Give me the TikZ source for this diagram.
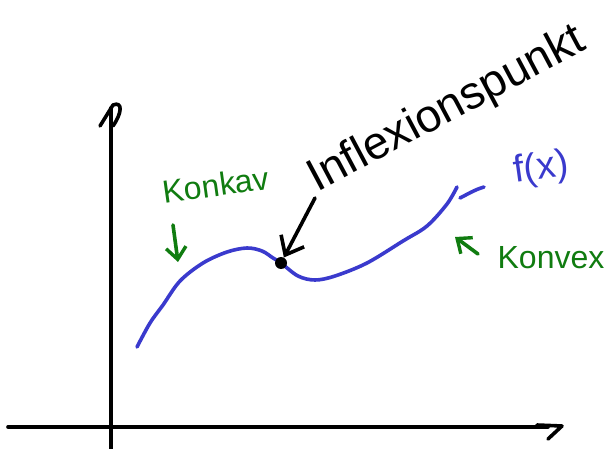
\documentclass[tikz,border=0pt]{standalone}
\usepackage{fontspec}
\setmainfont{Liberation Sans}
\usetikzlibrary{arrows.meta}
\definecolor{penblue}{RGB}{58,58,205}
\definecolor{pengreen}{RGB}{16,124,16}
\tikzset{
  ink/.style={line width=3.6pt, line cap=round, line join=round},
  barb/.style={-{Straight Barb[length=16pt,width=26pt,line width=3.6pt]}},
  smallbarb/.style={-{Straight Barb[length=12pt,width=20pt,line width=3.4pt]}},
  label/.style={inner sep=0pt, font=\fontsize{32}{34}\selectfont},
}
\begin{document}
\begin{tikzpicture}[x=1pt,y=-1pt]
\useasboundingbox[fill=white] (0,0) rectangle (610,449);
% axes
\coordinate (xs) at (8,427);
\coordinate (xe) at (548,427);
\coordinate (ys) at (111,449);
\coordinate (ye) at (111,108);
\draw[ink] (xs) -- (xe);
\draw[ink] (537,425) -- (562,426) -- (548,439);
\draw[ink] (ys) -- (ye);
\draw[ink] (100,126) -- (113,105) .. controls (123,101) and (122,113) .. (113,126);
% curve
\draw[ink, penblue] plot[smooth, tension=0.55] coordinates {
 (137,347) (150,323) (163,305) (180,281) (203,263) (227,252) (247,248)
 (262,251) (273,258) (281,263) (298,276) (315,280) (335,276) (367,263)
 (403,241) (427,226) (447,204) (457,187)};
\draw[ink, penblue] (460,198) .. controls (468,194) and (474,190) .. (484,187);
% inflection point
\node[circle, fill=black, minimum size=12pt, inner sep=0pt] (ip) at (281,263) {};
\coordinate (ipa) at (315,198);
\draw[ink, barb] (ipa) -- (ip);
\node[label, font=\fontsize{46}{48}\selectfont, rotate=28] (itext) at (447,110) {Inflexionspunkt};
% f(x)
\node[label, penblue, font=\fontsize{38}{40}\selectfont, rotate=8] (fx) at (541,169) {f(x)};
% konkav
\node[label, pengreen, rotate=8] (kk) at (216,185) {Konkav};
\coordinate (kka) at (173,225);
\coordinate (kkb) at (178,262);
\draw[ink, pengreen, smallbarb] (kka) -- (kkb);
% konvex
\node[label, pengreen] (kx) at (551,258) {Konvex};
\coordinate (kxa) at (478,254);
\coordinate (kxb) at (455,237);
\draw[ink, pengreen, smallbarb] (kxa) -- (kxb);
\end{tikzpicture}
\end{document}
